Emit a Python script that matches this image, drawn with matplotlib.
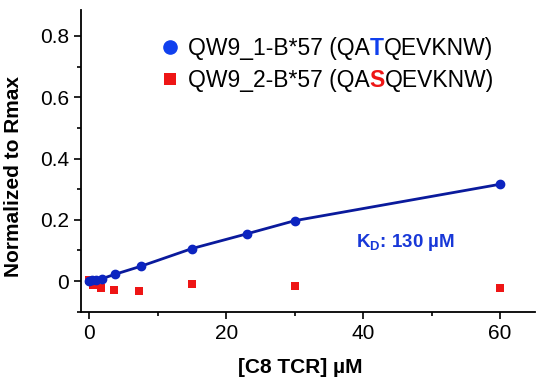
import numpy as np
import matplotlib.pyplot as plt
from matplotlib.lines import Line2D

plt.rcParams.update({
    "font.family": ["Liberation Sans", "DejaVu Sans"],
    "mathtext.fontset": "custom",
    "mathtext.rm": "Liberation Sans",
    "mathtext.bf": "Liberation Sans:bold",
    "axes.linewidth": 1.3,
})

# ---------- data ----------
conc_1 = [0, 0.47, 0.94, 1.9, 3.75, 7.5, 15, 23, 30, 60]
resp_1 = [0.0, 0.002, 0.003, 0.008, 0.022, 0.048, 0.106, 0.154, 0.197, 0.316]
conc_2 = [0, 0.6, 1.7, 3.6, 7.3, 15, 30, 60]
resp_2 = [0.003, -0.013, -0.024, -0.029, -0.034, -0.010, -0.016, -0.024]

label_1 = ("QW9_1-B*57 (QA", "T", "QEVKNW)")
label_2 = ("QW9_2-B*57 (QA", "S", "QEVKNW)")
kd_text = r"$\mathbf{K_D}$: 130 µM"

blue = "#0c24c0"
blue_line = "#0a1a9c"
blue_leg = "#1040ee"
red = "#ee1515"

fig = plt.figure(figsize=(5.5, 3.83), dpi=100)
ax = fig.add_axes([0.1473, 0.1854, 0.8254, 0.7886])

ax.plot(conc_1, resp_1, color=blue_line, lw=2.0, zorder=2)
ax.plot(conc_1, resp_1, "o", color=blue, ms=6, zorder=3)
ax.plot(conc_2, resp_2, "s", color=red, ms=5.2, mew=0, zorder=2)

ax.set_xlim(-1.2, 65.1)
ax.set_ylim(-0.101, 0.885)
ax.set_xticks([0, 20, 40, 60])
ax.set_xticks([10, 30, 50], minor=True)
ax.set_yticks([0, 0.2, 0.4, 0.6, 0.8])
ax.set_yticklabels(["0", "0.2", "0.4", "0.6", "0.8"])
ax.set_yticks([-0.1, 0.1, 0.3, 0.5, 0.7], minor=True)
ax.tick_params(which="major", length=5, width=1.2, labelsize=15, direction="out")
ax.tick_params(which="minor", length=3, width=1.2, direction="out")
for s in ("top", "right"):
    ax.spines[s].set_visible(False)

ax.set_xlabel("[C8 TCR] µM", fontsize=15, fontweight="bold")
ax.set_ylabel("Normalized to Rmax", fontsize=15, fontweight="bold")
ax.xaxis.set_label_coords(0.482, -0.152)
ax.yaxis.set_label_coords(-0.128, 0.447)

ax.text(39, 0.127, kd_text, color="#1838d8", fontsize=13.5, fontweight="bold",
        ha="left", va="center")

handles = [
    Line2D([], [], marker="o", ls="", color=blue_leg, ms=9.5),
    Line2D([], [], marker="s", ls="", color=red, ms=8.5, mew=0),
]
leg = ax.legend(handles, [label_1[0], label_2[0]], loc="upper left",
                bbox_to_anchor=(0.145, 0.94), frameon=False, fontsize=16.5,
                handletextpad=0.2, handlelength=1.2, labelspacing=0.38,
                borderaxespad=0)

for txt, lab, col in zip(leg.get_texts(), (label_1, label_2), (blue_leg, red)):
    a = ax.annotate(lab[1], xy=(1, 0), xycoords=txt, va="bottom", ha="left",
                    fontsize=16.5, fontweight="bold", color=col, zorder=6)
    ax.annotate(lab[2], xy=(1, 0), xycoords=a, va="bottom", ha="left",
                fontsize=16.5, color="black", zorder=7)

fig.savefig("out.png", dpi=100)
